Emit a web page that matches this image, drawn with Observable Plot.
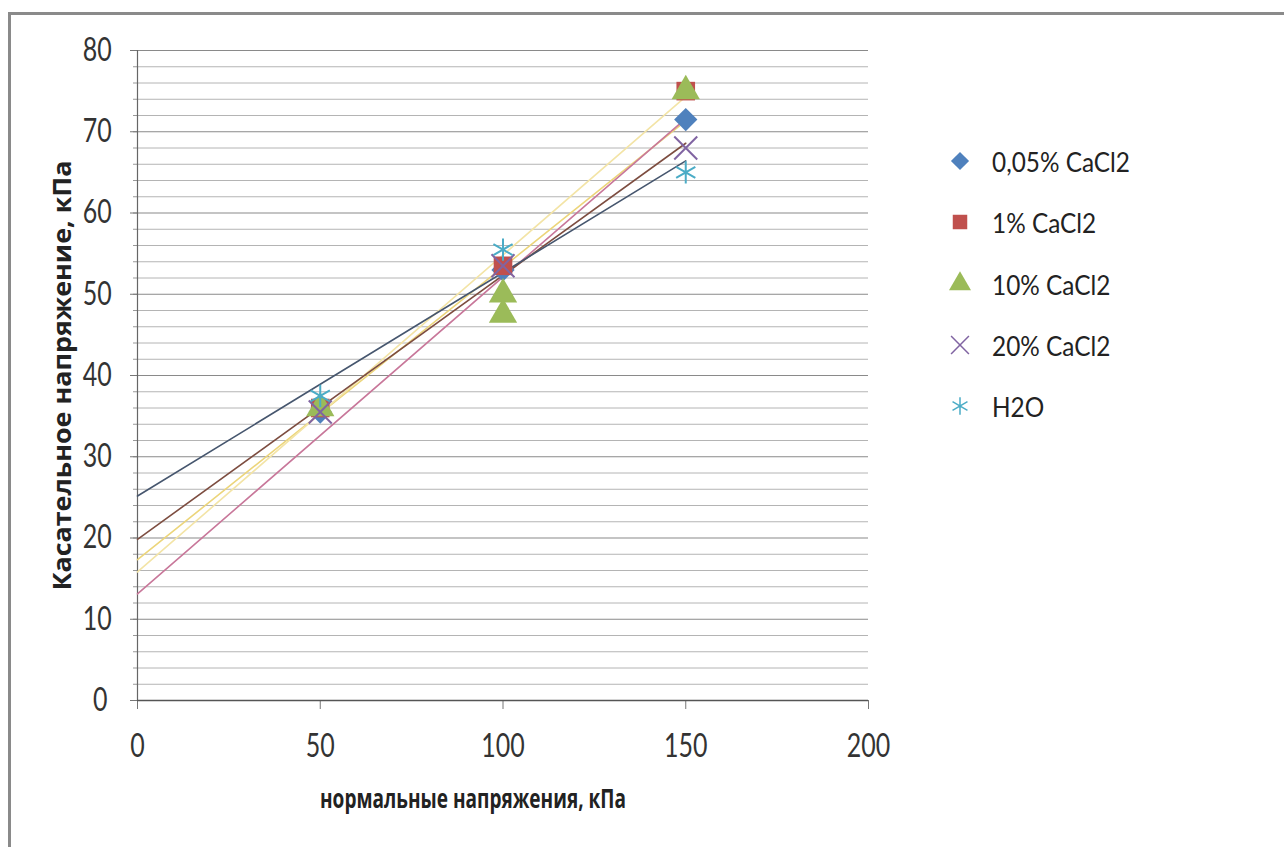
<!DOCTYPE html>
<html>
<head>
<meta charset="utf-8">
<script src="https://cdn.jsdelivr.net/npm/d3@7"></script>
<script src="https://cdn.jsdelivr.net/npm/@observablehq/plot@0.6"></script>
<style>
html,body{margin:0;padding:0;background:#fff;width:1284px;height:847px;overflow:hidden;}
#wrap{position:relative;width:1284px;height:847px;}
#chart{position:absolute;left:0;top:0;}
#frame{position:absolute;left:8px;top:12px;width:1300px;height:860px;border-left:3px solid #8a8a8a;border-top:3px solid #8a8a8a;box-sizing:border-box;pointer-events:none;}
#legend{position:absolute;left:940px;top:0;font-family:Lato,"Open Sans",sans-serif;font-size:27px;color:#222;}
.row{position:absolute;left:0;height:40px;display:flex;align-items:center;white-space:nowrap;}
.row svg{width:40px;height:40px;margin-right:12px;flex:none;}
.row span{display:inline-block;transform-origin:left center;}
</style>
</head>
<body>
<div id="wrap">
  <div id="chart"></div>
  <div id="legend"></div>
  <div id="frame"></div>
</div>
<script>
// ---- data ----
const seriesNames = ["0,05% CaCl2", "1% CaCl2", "10% CaCl2", "20% CaCl2", "H2O"];
const seriesColors = ["#4f81bd", "#c0504d", "#9bbb59", "#8064a2", "#4bacc6"];
const trendColors = ["#ecd57a", "#f3e4a6", "#c8779a", "#7d4d40", "#46566e"];
const seriesSymbols = ["diamond2", "square", "triangle", "times", "asterisk"];

const xDiamond = [50, 100, 150];
const yDiamond = [35.5, 53, 71.5];
const xSquare = [50, 100, 150];
const ySquare = [36, 53.5, 75];
const xTriangle = [50, 100, 100, 150];
const yTriangle = [36, 50, 47.5, 75];
const xTimes = [50, 100, 150];
const yTimes = [35.5, 53.5, 68];
const xH2O = [50, 100, 150];
const yH2O = [37.5, 55.5, 65];

const xTicks = [0, 50, 100, 150, 200];
const yTicks = [0, 10, 20, 30, 40, 50, 60, 70, 80];
const yMinorTicks = d3.range(0, 81, 2);

const xTitle = "нормальные напряжения, кПа";
const yTitle = "Касательное напряжение, кПа";

// ---- build tables ----
const xs = [xDiamond, xSquare, xTriangle, xTimes, xH2O];
const ys = [yDiamond, ySquare, yTriangle, yTimes, yH2O];
const points = [];
const trends = [];
seriesNames.forEach((name, i) => {
  const X = xs[i], Y = ys[i];
  X.forEach((x, j) => points.push({series: name, x, y: Y[j]}));
  const mx = d3.mean(X), my = d3.mean(Y);
  const sxy = d3.sum(X, (x, j) => (x - mx) * (Y[j] - my));
  const sxx = d3.sum(X, x => (x - mx) ** 2);
  const slope = sxy / sxx, intercept = my - slope * mx;
  const xmax = d3.max(X);
  trends.push({series: name, x: 0, y: intercept});
  trends.push({series: name, x: xmax, y: intercept + slope * xmax});
});

const numFont = 'Lato,"Open Sans",sans-serif';
const titleFont = '"Open Sans",Lato,sans-serif';

const marks = [
  Plot.ruleY(yMinorTicks.filter(v => v % 10 !== 0), {stroke: "#b4b4b4", strokeWidth: 1}),
  Plot.ruleY(yTicks.filter(v => v !== 0), {stroke: "#8a8a8a", strokeWidth: 1.2}),
  Plot.axisY({ticks: yMinorTicks, tickSize: 4, text: null, label: null, stroke: "#999"}),
  Plot.axisY({ticks: yTicks, tickSize: 7, text: null, label: null, stroke: "#777"}),
  Plot.axisY({ticks: yTicks, tickSize: 0, dx: -25, label: null, fontSize: 32, fontFamily: numFont, fill: "#333", className: "ylab"}),
  Plot.axisX({ticks: xTicks, tickSize: 9, text: null, label: null, stroke: "#777"}),
  Plot.axisX({ticks: xTicks, tickSize: 0, dy: 25, label: null, fontSize: 32, fontFamily: numFont, fill: "#333", className: "xlab"}),
  Plot.ruleX([0], {stroke: "#666", strokeWidth: 1.2}),
  Plot.ruleY([0], {stroke: "#555", strokeWidth: 1.4})
];
seriesNames.forEach((name, i) => {
  marks.push(Plot.line(trends.filter(d => d.series === name), {x: "x", y: "y", stroke: trendColors[i], strokeWidth: 1.6}));
});
seriesNames.forEach((name, i) => {
  const filled = ["diamond2", "square", "triangle"].includes(seriesSymbols[i]);
  marks.push(Plot.dot(points.filter(d => d.series === name), {
    x: "x", y: "y", symbol: () => seriesSymbols[i], r: 10.5,
    fill: filled ? seriesColors[i] : "none",
    stroke: filled ? "none" : seriesColors[i],
    strokeWidth: 2
  }));
});
marks.push(Plot.text([xTitle], {frameAnchor: "bottom", dx: -30, dy: 107, fontSize: 26, fontWeight: "bold", fill: "#222", fontFamily: titleFont, className: "xtitle"}));
marks.push(Plot.text([yTitle], {frameAnchor: "left", textAnchor: "middle", dx: -75, rotate: -90, fontSize: 25, fontWeight: "bold", fill: "#222", fontFamily: titleFont, className: "ytitle"}));

const chart = Plot.plot({
  width: 1284,
  height: 847,
  marginLeft: 137,
  marginRight: 416,
  marginTop: 50,
  marginBottom: 147,
  x: {domain: [0, 200]},
  y: {domain: [0, 80]},
  style: {background: "transparent"},
  marks
});
document.getElementById("chart").appendChild(chart);

// narrow (condensed) look of the original font
const fitText = (t, len, shift) => {
  const nat = t.getComputedTextLength();
  t.setAttribute("textLength", len);
  t.setAttribute("lengthAdjust", "spacingAndGlyphs");
  if (shift) t.setAttribute("dx", (nat - len) * shift);
};
chart.querySelectorAll(".ylab text").forEach(t => fitText(t, t.getComputedTextLength() * 0.78, 1));
chart.querySelectorAll(".xlab text").forEach(t => fitText(t, t.getComputedTextLength() * 0.78, 0));
chart.querySelectorAll(".xtitle text").forEach(t => fitText(t, 306, 0));
chart.querySelectorAll(".ytitle text").forEach(t => fitText(t, 430, 0));

// ---- legend ----
const legend = document.getElementById("legend");
const rowY = [161, 222, 284, 345, 406];
const spans = [];
seriesNames.forEach((name, i) => {
  const row = document.createElement("div");
  row.className = "row";
  row.style.top = (rowY[i] - 20) + "px";
  const filled = ["diamond2", "square", "triangle"].includes(seriesSymbols[i]);
  const sym = {diamond2: d3.symbolDiamond2, square: d3.symbolSquare, triangle: d3.symbolTriangle, times: d3.symbolTimes, asterisk: d3.symbolAsterisk}[seriesSymbols[i]];
  const p = d3.symbol(sym, 210)();
  row.innerHTML = `<svg viewBox="-20 -20 40 40"><path d="${p}" fill="${filled ? seriesColors[i] : "none"}" stroke="${filled ? "none" : seriesColors[i]}" stroke-width="1.5"></path></svg><span>${name}</span>`;
  legend.appendChild(row);
  spans.push(row.querySelector("span"));
});
const k = 138 / spans[0].getBoundingClientRect().width;
spans.forEach(s => s.style.transform = `scaleX(${k})`);
</script>
</body>
</html>
